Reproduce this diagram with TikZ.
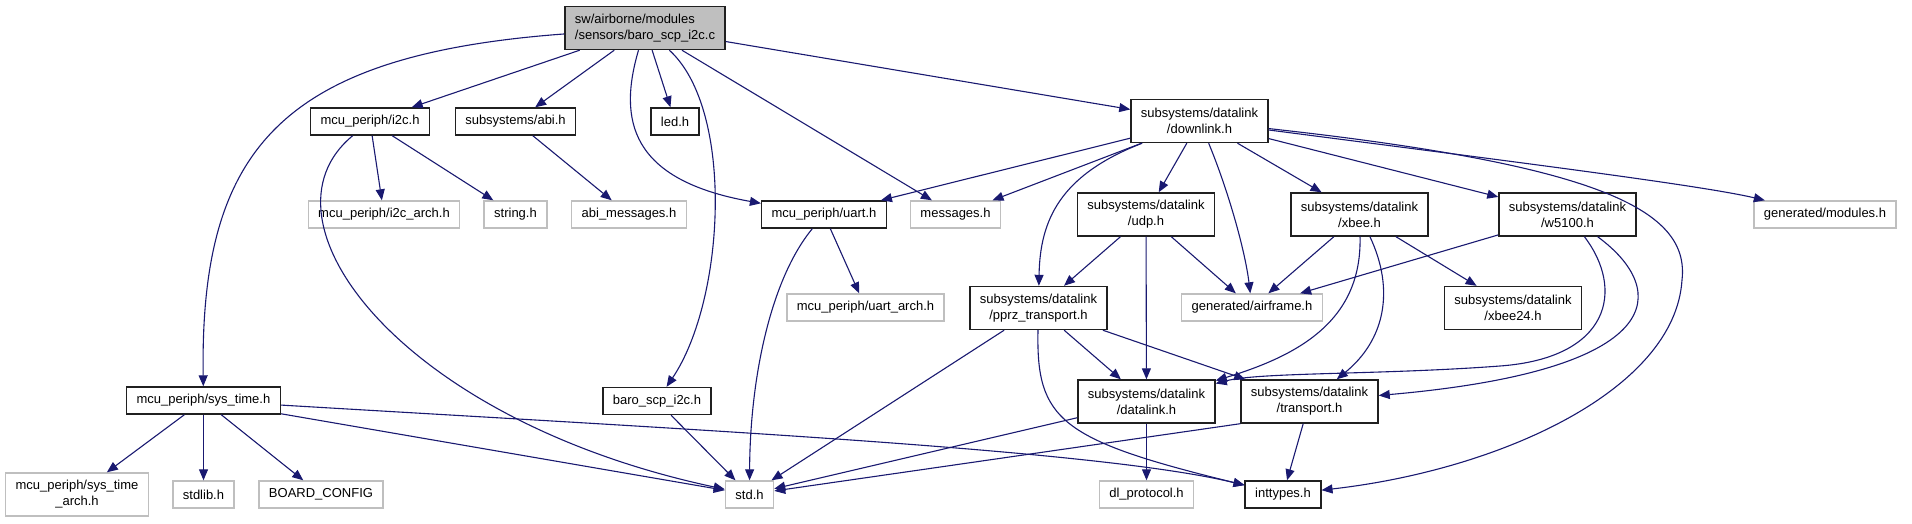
\documentclass[tikz,border=0pt]{standalone}
\usepackage{fontspec}
\setmainfont{Liberation Sans}
\usetikzlibrary{arrows.meta}
\definecolor{edgeblue}{HTML}{191970}
\definecolor{greybox}{HTML}{BFBFBF}
\definecolor{boxline}{HTML}{202020}
\newcommand{\filefont}{\fontsize{13}{16}\selectfont}

\begin{document}
\begin{tikzpicture}[x=1pt, y=-1pt,
    file/.style={draw=boxline, line width=1.4pt, fill=white, font=\filefont, align=center, inner xsep=10pt, inner ysep=3pt, minimum height=27pt},
    ext/.style={file, draw=greybox},
    two/.style={minimum height=43pt},
    root/.style={file, two, fill=greybox, align=left},
    dep/.style={draw=edgeblue, line width=1.1pt, -{Triangle[length=11pt, width=9pt]}}]
    \useasboundingbox(0,0)rectangle(1912,523);
    % source file
    \node[root](Main)at(645,28){sw/airborne/modules\\/sensors/baro\_scp\_i2c.c};
    % first level
    \node[file](I2C)at(370,121.5){mcu\_periph/i2c.h};
    \node[file](Abi)at(515.5,121.5){subsystems/abi.h};
    \node[file](Led)at(675,121.5){led.h};
    \node[file, two](Down)at(1199.5,121){subsystems/datalink\\/downlink.h};
    % second level
    \node[ext](I2CArch)at(384,214.5){mcu\_periph/i2c\_arch.h};
    \node[ext](Str)at(515.5,214.5){string.h};
    \node[ext](AbiMsg)at(629,214.5){abi\_messages.h};
    \node[file](Uart)at(824,214.5){mcu\_periph/uart.h};
    \node[ext](Msg)at(955.5,214.5){messages.h};
    \node[file, two](Udp)at(1146,214.5){subsystems/datalink\\/udp.h};
    \node[file, two](Xbee)at(1359.5,214.5){subsystems/datalink\\/xbee.h};
    \node[file, two](W5100)at(1567.5,214.5){subsystems/datalink\\/w5100.h};
    \node[ext](Mods)at(1825,214.5){generated/modules.h};
    % third level
    \node[ext](UartArch)at(865.5,307.5){mcu\_periph/uart\_arch.h};
    \node[file, two](Pprz)at(1038.5,308){subsystems/datalink\\/pprz\_transport.h};
    \node[ext](Airframe)at(1252,307.5){generated/airframe.h};
    \node[file, two](Xbee24)at(1513,308){subsystems/datalink\\/xbee24.h};
    % fourth level
    \node[file](SysTime)at(203.5,400.5){mcu\_periph/sys\_time.h};
    \node[file](Baro)at(657,401){baro\_scp\_i2c.h};
    \node[file, two](Datalink)at(1146.5,401.5){subsystems/datalink\\/datalink.h};
    \node[file, two](Transport)at(1309.5,401.5){subsystems/datalink\\/transport.h};
    % bottom
    \node[ext, two](SysArch)at(77,494.5){mcu\_periph/sys\_time\\\_arch.h};
    \node[ext](Stdlib)at(203.5,494.5){stdlib.h};
    \node[ext](Board)at(321,494.5){BOARD\_CONFIG};
    \node[ext](Std)at(749.5,494.5){std.h};
    \node[ext](DlProto)at(1146.5,494.5){dl\_protocol.h};
    \node[file](Inttypes)at(1283,494.5){inttypes.h};
    % from the source file
    \path[draw, dep](Main).. controls (280,55) and (200,150) ..(SysTime);
    \path[draw, dep](Main)to(I2C);
    \path[draw, dep](Main)to(Abi);
    \path[draw, dep](Main)to(Led);
    \path[draw, dep](Main).. controls (618,120) and (630,180) ..(Uart);
    \path[draw, dep](Main).. controls (735,110) and (725,300) ..(Baro);
    \path[draw, dep](Main)to(Msg);
    \path[draw, dep](Main)to(Down);
    % i2c and abi
    \path[draw, dep](I2C).. controls (250,220) and (400,420) ..(Std);
    \path[draw, dep](I2C)to(I2CArch);
    \path[draw, dep](I2C)to(Str);
    \path[draw, dep](Abi)to(AbiMsg);
    % downlink
    \path[draw, dep](Down)to(Uart);
    \path[draw, dep](Down)to(Msg);
    \path[draw, dep](Down).. controls (1060,175) and (1040,220) ..(Pprz);
    \path[draw, dep](Down)to(Udp);
    \path[draw, dep](Down).. controls (1228,190) and (1245,250) ..(Airframe);
    \path[draw, dep](Down)to(Xbee);
    \path[draw, dep](Down)to(W5100);
    \path[draw, dep](Down).. controls (1500,160) and (1700,185) ..(Mods);
    \path[draw, dep](Down).. controls (1600,165) and (1690,210) ..(1682,280).. controls (1675,390) and (1500,470) ..(Inttypes);
    % uart
    \path[draw, dep](Uart).. controls (770,280) and (750,380) ..(Std);
    \path[draw, dep](Uart)to(UartArch);
    % udp
    \path[draw, dep](Udp)to(Pprz);
    \path[draw, dep](Udp)to(Airframe);
    \path[draw, dep](Udp)to(Datalink);
    % xbee
    \path[draw, dep](Xbee)to(Airframe);
    \path[draw, dep](Xbee)to(Xbee24);
    \path[draw, dep](Xbee).. controls (1362,320) and (1300,355) ..(Datalink);
    \path[draw, dep](Xbee).. controls (1395,290) and (1385,340) ..(Transport);
    % w5100
    \path[draw, dep](W5100)to(Airframe);
    \path[draw, dep](W5100).. controls (1625,290) and (1610,358) ..(1500,366).. controls (1380,375) and (1260,372) ..(Datalink);
    \path[draw, dep](W5100).. controls (1670,290) and (1670,370) ..(Transport);
    % pprz transport
    \path[draw, dep](Pprz)to(Std);
    \path[draw, dep](Pprz)to(Datalink);
    \path[draw, dep](Pprz)to(Transport);
    \path[draw, dep](Pprz).. controls (1036,420) and (1060,440) ..(Inttypes);
    % sys time
    \path[draw, dep](SysTime)to(SysArch);
    \path[draw, dep](SysTime)to(Stdlib);
    \path[draw, dep](SysTime)to(Board);
    \path[draw, dep](SysTime)to(Std);
    \path[draw, dep](SysTime).. controls (700,430) and (1100,450) ..(Inttypes);
    % lower level
    \path[draw, dep](Baro)to(Std);
    \path[draw, dep](Datalink)to(Std);
    \path[draw, dep](Datalink)to(DlProto);
    \path[draw, dep](Transport.south west)to(Std);
    \path[draw, dep](Transport)to(Inttypes);
\end{tikzpicture}
\end{document}
